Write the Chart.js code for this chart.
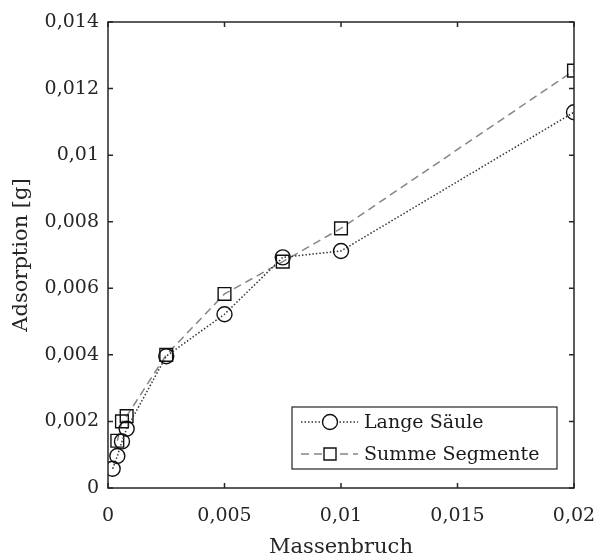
<!DOCTYPE html>
<html>
<head>
<meta charset="utf-8">
<script src="https://cdn.jsdelivr.net/npm/chart.js@4"></script>
<style>
  html, body { margin: 0; padding: 0; background: #fff; }
  #wrap { width: 601px; height: 560px; }
</style>
</head>
<body>
<div id="wrap"><canvas id="adsChart" width="601" height="560"></canvas></div>
<script>
// Daten
const massenbruchLang = [0.0002, 0.0004, 0.0006, 0.0008, 0.0025, 0.005, 0.0075, 0.01, 0.02];
const langeSaeule = [0.00058, 0.00096, 0.0014, 0.00178, 0.00396, 0.00522, 0.00693, 0.00712, 0.01129];

const massenbruchSumme = [0.0004, 0.0006, 0.0008, 0.0025, 0.005, 0.0075, 0.01, 0.02];
const summeSegmente = [0.00142, 0.002, 0.00216, 0.004, 0.00583, 0.0068, 0.0078, 0.01254];

const xTicks = [0, 0.005, 0.01, 0.015, 0.02];
const yTicks = [0, 0.002, 0.004, 0.006, 0.008, 0.01, 0.012, 0.014];

const FONT = '"DejaVu Serif", "Liberation Serif", serif';
const AXIS_COLOR = '#262626';

// Zahlen mit Komma wie im Original
function fmt(v) {
    if (Math.abs(v) < 1e-12) return '0';
    return String(+v.toFixed(4)).replace('.', ',');
}

function toPoints(xs, ys) {
    return xs.map((x, i) => ({ x: x, y: ys[i] }));
}

// Rahmen mit Ticks nach innen (wie MATLAB "box on")
const framePlugin = {
    id: 'frame',
    afterDatasetsDraw(chart) {
        const { ctx, chartArea: a, scales } = chart;
        ctx.save();
        ctx.strokeStyle = AXIS_COLOR;
        ctx.lineWidth = 1.5;
        ctx.strokeRect(a.left, a.top, a.right - a.left, a.bottom - a.top);
        const len = 5;
        ctx.beginPath();
        xTicks.forEach(v => {
            const px = scales.x.getPixelForValue(v);
            ctx.moveTo(px, a.bottom); ctx.lineTo(px, a.bottom - len);
            ctx.moveTo(px, a.top); ctx.lineTo(px, a.top + len);
        });
        yTicks.forEach(v => {
            const py = scales.y.getPixelForValue(v);
            ctx.moveTo(a.left, py); ctx.lineTo(a.left + len, py);
            ctx.moveTo(a.right, py); ctx.lineTo(a.right - len, py);
        });
        ctx.stroke();
        ctx.restore();
    }
};

// Legende unten rechts im Plotbereich
const legendPlugin = {
    id: 'boxLegend',
    afterDraw(chart) {
        const { ctx, chartArea: a } = chart;
        const x0 = a.right - 282, y0 = a.bottom - 81, w = 265, h = 62;
        ctx.save();
        ctx.fillStyle = '#fff';
        ctx.fillRect(x0, y0, w, h);
        ctx.strokeStyle = AXIS_COLOR;
        ctx.lineWidth = 1.2;
        ctx.strokeRect(x0, y0, w, h);
        chart.data.datasets.forEach((ds, i) => {
            const cy = y0 + 15 + i * 32;
            ctx.strokeStyle = ds.borderColor;
            ctx.lineWidth = ds.borderWidth;
            ctx.setLineDash(ds.borderDash);
            ctx.beginPath();
            ctx.moveTo(x0 + 9, cy);
            ctx.lineTo(x0 + 66, cy);
            ctx.stroke();
            ctx.setLineDash([]);
            ctx.strokeStyle = ds.pointBorderColor;
            ctx.lineWidth = ds.pointBorderWidth;
            ctx.fillStyle = '#fff';
            ctx.beginPath();
            if (ds.pointStyle === 'circle') {
                ctx.arc(x0 + 38, cy, 7.5, 0, Math.PI * 2);
            } else {
                ctx.rect(x0 + 32, cy - 6, 12, 12);
            }
            ctx.fill();
            ctx.stroke();
            ctx.fillStyle = '#1a1a1a';
            ctx.font = '19px ' + FONT;
            ctx.textBaseline = 'middle';
            ctx.fillText(ds.label, x0 + 72, cy + 1);
        });
        ctx.restore();
    }
};

new Chart(document.getElementById('adsChart'), {
    type: 'scatter',
    data: {
        datasets: [{
            label: 'Lange Säule',
            data: toPoints(massenbruchLang, langeSaeule),
            showLine: true,
            borderColor: '#333',
            borderWidth: 1.5,
            borderDash: [1.5, 2],
            pointStyle: 'circle',
            pointRadius: 7.5,
            pointBorderColor: '#111',
            pointBorderWidth: 1.4,
            pointBackgroundColor: 'rgba(0,0,0,0)',
            pointHoverRadius: 7.5
        }, {
            label: 'Summe Segmente',
            data: toPoints(massenbruchSumme, summeSegmente),
            showLine: true,
            borderColor: '#858585',
            borderWidth: 1.5,
            borderDash: [8, 5],
            pointStyle: 'rect',
            pointRadius: 9,
            pointBorderColor: '#111',
            pointBorderWidth: 1.4,
            pointBackgroundColor: 'rgba(0,0,0,0)',
            pointHoverRadius: 9
        }]
    },
    options: {
        responsive: false,
        animation: false,
        layout: {
            padding: { left: 0, right: 27, top: 22, bottom: 0 }
        },
        plugins: {
            legend: { display: false },
            tooltip: { enabled: false }
        },
        scales: {
            x: {
                type: 'linear',
                min: 0,
                max: 0.02,
                afterBuildTicks: scale => { scale.ticks = xTicks.map(v => ({ value: v })); },
                afterFit: scale => {
                    scale.height = 72;
                    scale.paddingLeft = 0;
                    scale.paddingRight = 0;
                },
                grid: { display: false, drawTicks: false },
                border: { display: false },
                ticks: {
                    color: '#262626',
                    font: { family: FONT, size: 19 },
                    padding: 17,
                    maxRotation: 0,
                    callback: v => fmt(v)
                },
                title: {
                    display: true,
                    text: 'Massenbruch',
                    color: '#262626',
                    font: { family: FONT, size: 21 },
                    padding: { top: 0, bottom: 0 }
                }
            },
            y: {
                type: 'linear',
                min: 0,
                max: 0.014,
                afterBuildTicks: scale => { scale.ticks = yTicks.map(v => ({ value: v })); },
                afterFit: scale => {
                    scale.width = 108;
                    scale.paddingTop = 0;
                    scale.paddingBottom = 0;
                },
                grid: { display: false, drawTicks: false },
                border: { display: false },
                ticks: {
                    color: '#262626',
                    font: { family: FONT, size: 19 },
                    padding: 9,
                    callback: v => fmt(v)
                },
                title: {
                    display: true,
                    text: 'Adsorption [g]',
                    color: '#262626',
                    font: { family: FONT, size: 21 },
                    padding: { top: 9, bottom: 2 }
                }
            }
        }
    },
    plugins: [framePlugin, legendPlugin]
});
</script>
</body>
</html>
